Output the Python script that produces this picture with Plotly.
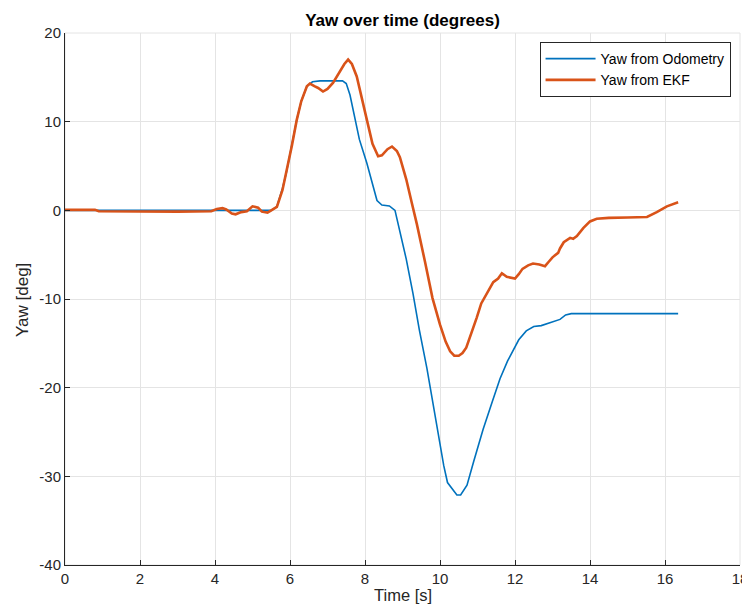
import plotly.graph_objects as go

# Odometry yaw (blue)
odo_t = [0, 5.5, 5.65, 5.8, 5.9, 6.05, 6.18, 6.3, 6.45, 6.6, 6.8, 7.4, 7.5, 7.6, 7.7, 7.85,
         8.05, 8.2, 8.32, 8.45, 8.65, 8.8, 8.93, 9.1, 9.28, 9.45, 9.65, 9.8, 9.95, 10.1,
         10.2, 10.35, 10.45, 10.55, 10.72, 10.9, 11.15, 11.4, 11.6, 11.8, 11.95, 12.1,
         12.3, 12.5, 12.7, 12.93, 13.2, 13.35, 13.5, 16.35]
odo_yaw = [0, 0, 0.4, 2.5, 4.2, 7.5, 10.2, 12.3, 14.0, 14.5, 14.6, 14.6, 14.3, 13.0, 11.0, 8.0,
           5.3, 2.8, 1.1, 0.6, 0.5, 0.0, -2.3, -5.5, -9.4, -13.5, -17.8, -21.5, -25.3, -28.8,
           -30.7, -31.6, -32.1, -32.1, -31.0, -28.3, -24.7, -21.5, -19.0, -17.0, -15.8, -14.6,
           -13.6, -13.1, -13.0, -12.7, -12.3, -11.8, -11.65, -11.65]

# EKF yaw (orange)
ekf_t = [0, 0.8, 0.9, 2, 3, 3.9, 4.05, 4.2, 4.3, 4.45, 4.55, 4.7, 4.85, 5.0, 5.15, 5.25, 5.4,
         5.5, 5.65, 5.8, 5.9, 6.05, 6.18, 6.3, 6.45, 6.53, 6.65, 6.75, 6.88, 7.0, 7.15, 7.33,
         7.45, 7.55, 7.65, 7.78, 7.9, 8.05, 8.2, 8.35, 8.45, 8.6, 8.72, 8.85, 8.93, 9.1, 9.25,
         9.38, 9.6, 9.8, 10.0, 10.15, 10.27, 10.38, 10.5, 10.6, 10.7, 10.85, 10.98, 11.1,
         11.25, 11.42, 11.55, 11.65, 11.78, 12.0, 12.1, 12.2, 12.35, 12.48, 12.65, 12.8, 12.9,
         13.0, 13.15, 13.2, 13.3, 13.4, 13.47, 13.55, 13.65, 13.82, 14.0, 14.18, 14.5, 15.0,
         15.52, 15.78, 16.05, 16.35]
ekf_yaw = [0.05, 0.05, -0.1, -0.15, -0.15, -0.1, 0.15, 0.25, 0.1, -0.35, -0.45, -0.2, -0.1,
           0.45, 0.3, -0.15, -0.25, 0.0, 0.4, 2.3, 4.2, 7.3, 10.2, 12.3, 14.0, 14.3, 14.0, 13.8,
           13.4, 13.7, 14.4, 15.6, 16.5, 17.0, 16.5, 15.1, 12.8, 10.2, 7.5, 6.1, 6.2, 6.9, 7.2,
           6.7, 6.0, 3.5, 0.8, -1.5, -5.8, -9.9, -12.9, -14.8, -15.9, -16.4, -16.4, -16.1,
           -15.5, -13.8, -12.1, -10.5, -9.4, -8.1, -7.7, -7.1, -7.5, -7.7, -7.2, -6.6, -6.2,
           -6.0, -6.1, -6.3, -5.8, -5.3, -4.8, -4.3, -3.6, -3.3, -3.1, -3.2, -2.9, -2.0, -1.25,
           -0.95, -0.85, -0.8, -0.75, -0.2, 0.45, 0.9]

x_ticks = [0, 2, 4, 6, 8, 10, 12, 14, 16, 18]
y_ticks = [-40, -30, -20, -10, 0, 10, 20]
y_tick_labels = ["-40", "-30", "-20", "-10", "0", "10", "20"]

FONT = "Liberation Sans, Arial, sans-serif"
TXT = "#262626"
GRID = "#e4e4e4"

# the page body adds an 8px margin; size the figure so it fits the 750x612 window
W, H = 742, 596
ML, MR, MT, MB = 57, 10, 25, 39
PW, PH = W - ML - MR, H - MT - MB

fig = go.Figure()
fig.add_trace(go.Scatter(x=odo_t, y=odo_yaw, mode="lines", name="Yaw from Odometry",
                         line=dict(color="#0072BD", width=1.6)))
fig.add_trace(go.Scatter(x=ekf_t, y=ekf_yaw, mode="lines", name="Yaw from EKF",
                         line=dict(color="#D95319", width=2.6)))

fig.update_layout(
    width=W, height=H,
    paper_bgcolor="white", plot_bgcolor="white",
    margin=dict(l=ML, r=MR, t=MT, b=MB),
    font=dict(family=FONT, size=15, color=TXT),
    title=dict(text="<b>Yaw over time (degrees)</b>", x=0.5, xref="paper",
               y=1 - 12 / H, yref="container", yanchor="middle",
               font=dict(size=17, color="black")),
    showlegend=True,
    legend=dict(x=0.986, y=0.983, xanchor="right", yanchor="top",
                bgcolor="white", bordercolor=TXT, borderwidth=1, itemwidth=50,
                font=dict(size=14, color="black"), tracegroupgap=0),
    shapes=[dict(type="rect", xref="paper", yref="paper", x0=0, x1=1, y0=0, y1=1,
                 line=dict(color=GRID, width=1), layer="below")],
    annotations=[
        dict(text="Time [s]", xref="paper", yref="paper", x=0.5, y=-30 / PH,
             xanchor="center", yanchor="middle", showarrow=False,
             font=dict(size=16.5, color=TXT)),
        dict(text="Yaw [deg]", xref="paper", yref="paper", x=-43 / PW,
             y=265 / PH, xanchor="center", yanchor="middle", showarrow=False,
             textangle=-90, font=dict(size=17, color=TXT)),
    ],
)
fig.update_xaxes(range=[0, 18], tickvals=x_ticks, showgrid=True, gridcolor=GRID,
                 gridwidth=1, zeroline=False, showline=True, linecolor=TXT, linewidth=1,
                 ticks="inside", ticklen=5, tickcolor=TXT, automargin=False,
                 ticklabeloverflow="allow")
fig.update_yaxes(range=[-40, 20], tickvals=y_ticks, ticktext=y_tick_labels, showgrid=True,
                 gridcolor=GRID, gridwidth=1, zeroline=False, showline=True, linecolor=TXT,
                 linewidth=1, ticks="inside", ticklen=5, tickcolor=TXT, automargin=False,
                 ticklabeloverflow="allow")

fig.write_html("out.html")
